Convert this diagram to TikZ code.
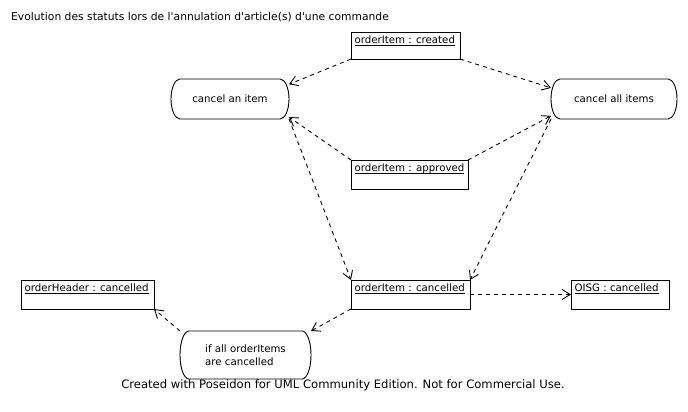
\documentclass[tikz,border=0pt]{standalone}
\usepackage{fontspec}
\setmainfont{DejaVu Sans}[Ligatures=TeXOff]
\usetikzlibrary{arrows.meta}
\newcommand\myul[1]{\setbox0\hbox{#1}\rlap{\usebox0}\rule[-2pt]{\wd0}{0.6pt}}
\newcommand\statebox[2]{%
  \draw[stateline] ([xshift=9pt]#1.north west) -- ([xshift=-9pt]#1.north east)
    arc[start angle=90,end angle=-90,x radius=9pt,y radius=#2]
    -- ([xshift=9pt]#1.south west)
    arc[start angle=270,end angle=90,x radius=9pt,y radius=#2] -- cycle;}
\begin{document}
\begin{tikzpicture}[x=1pt,y=-1pt,
  font=\fontsize{10.2}{12.5}\selectfont,
  obj/.style={draw,line width=0.9pt,rectangle,inner sep=0pt,outer sep=0pt},
  objtxt/.style={anchor=north west,inner sep=0pt,xshift=3.5pt,yshift=-4pt},
  state/.style={rectangle,inner sep=0pt,outer sep=0pt},
  stateline/.style={line width=0.9pt},
  dep/.style={line width=0.9pt,dash pattern=on 4pt off 4pt,
    -{Straight Barb[length=8pt,width=10pt]}}]
\fill[white] (0,0) rectangle (688,412);
\useasboundingbox (0,0) rectangle (688,412);
% title and footer
\node[anchor=west,inner sep=0pt,font=\fontsize{10.75}{13}\selectfont] (title) at (11,17) {Evolution des statuts lors de l'annulation d'article(s) d'une commande};
\node[inner sep=0pt,font=\fontsize{11.6}{14}\selectfont] (footer) at (343,385) {Created with Poseidon for UML Community Edition. Not for Commercial Use.};
% object boxes
\node[obj,minimum width=109pt,minimum height=27pt] (created) at (405.5,45.5) {};
\node[objtxt] (createdt) at (created.north west) {\myul{orderItem : created}};
\node[obj,minimum width=117pt,minimum height=29pt] (approved) at (409.5,174.5) {};
\node[objtxt] (approvedt) at (approved.north west) {\myul{orderItem : approved}};
\node[obj,minimum width=119pt,minimum height=29pt] (cancelled) at (410.5,294.5) {};
\node[objtxt] (cancelledt) at (cancelled.north west) {\myul{orderItem : cancelled}};
\node[obj,minimum width=98pt,minimum height=29pt] (oisg) at (620,294.5) {};
\node[objtxt] (oisgt) at (oisg.north west) {\myul{OISG : cancelled}};
\node[obj,minimum width=133pt,minimum height=29pt] (header) at (87.5,294.5) {};
\node[objtxt] (headert) at (header.north west) {\myul{orderHeader : cancelled}};
% states
\node[state,minimum width=118pt,minimum height=40pt] (canitem) at (230,99) {cancel an item};
\node[state,minimum width=126pt,minimum height=40pt] (canall) at (614,99) {cancel all items};
\node[state,minimum width=131pt,minimum height=48pt,align=left] (ifall) at (245.5,355) {if all orderItems\\are cancelled};
\statebox{canitem}{20pt}
\statebox{canall}{20pt}
\statebox{ifall}{24pt}
% connectors
\draw[dep] (created.south west) -- (canitem.14);
\draw[dep] (created.south east) -- (canall.170);
\draw[dep] (approved.north west) -- (canitem.-17);
\draw[dep] (approved.north east) -- (canall.195);
\draw[dep] (canitem.south east) -- (cancelled.north west);
\draw[dep] (canall.south west) -- (cancelled.north east);
\draw[dep] (cancelled.east) -- (oisg.west);
\draw[dep] (cancelled.south west) -- (ifall.north east);
\draw[dep] (ifall.north west) -- (header.south east);
\end{tikzpicture}
\end{document}
